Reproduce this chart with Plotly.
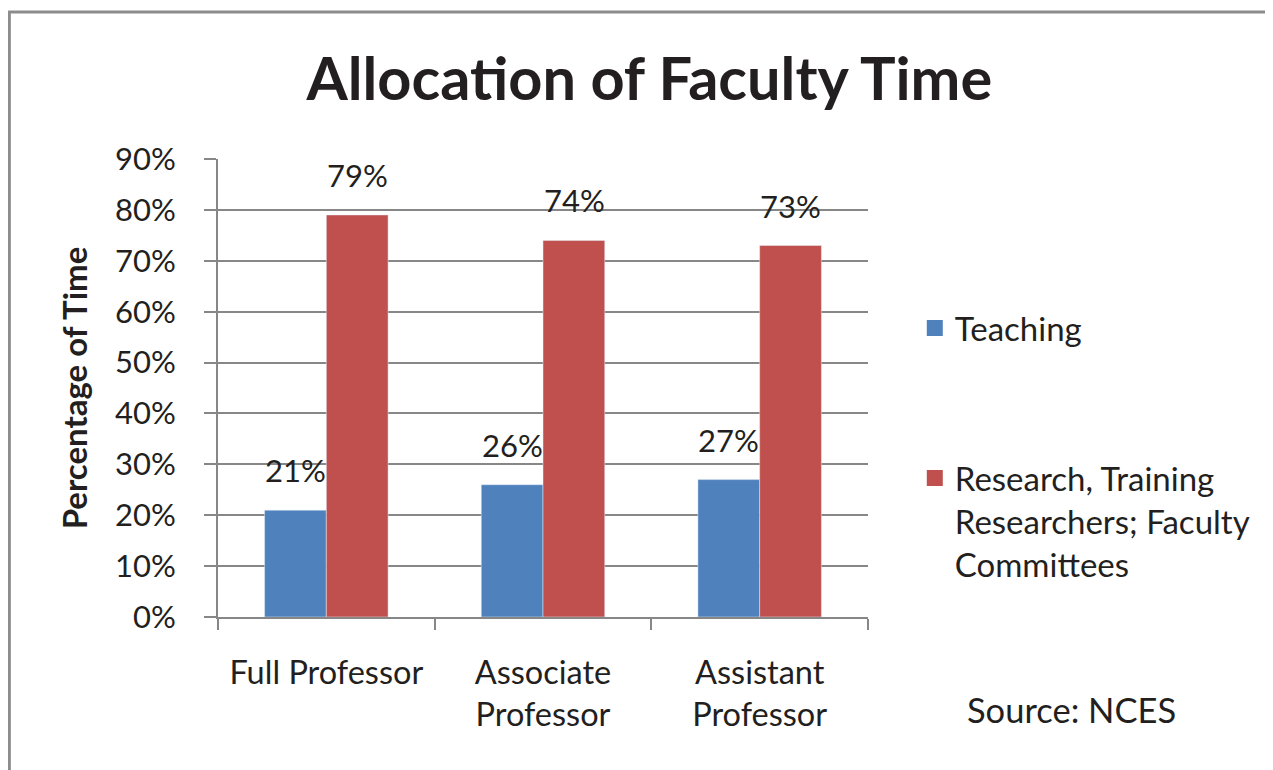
import plotly.graph_objects as go

categories = ["Full Professor", "Associate<br>Professor", "Assistant<br>Professor"]
teaching = [21, 26, 27]
research = [79, 74, 73]
series_names = ["Teaching", "Research, Training<br>Researchers; Faculty<br>Committees"]
y_ticks = [0, 10, 20, 30, 40, 50, 60, 70, 80, 90]
y_tick_labels = [f"{v}%" for v in y_ticks]

BLUE = "#4F81BD"
RED = "#C0504D"
GRID = "#878787"
TXT = "#231f20"
FONT = "Lato"

fig = go.Figure()
fig.add_trace(go.Bar(x=categories, y=teaching, name=series_names[0],
                     marker=dict(color=BLUE), showlegend=False))
fig.add_trace(go.Bar(x=categories, y=research, name=series_names[1],
                     marker=dict(color=RED), showlegend=False))
# legend entries (square swatches)
for nm, col, grp in ((series_names[0], BLUE, "a"), (series_names[1], RED, "b")):
    fig.add_trace(go.Scatter(x=[None], y=[None], mode="markers", name=nm,
                             legendgroup=grp,
                             marker=dict(symbol="square", size=16, color=col)))

# data labels
for vals, shift in ((teaching, -31), (research, 31)):
    for c, v in zip(categories, vals):
        fig.add_annotation(x=c, y=v, text=f"{v}%", showarrow=False, xshift=shift,
                           yanchor="bottom", yshift=19,
                           font=dict(family=FONT, size=31, color=TXT))

fig.add_annotation(xref="paper", yref="paper", x=1.149, y=-0.203, xanchor="left",
                   yanchor="middle", text="Source: NCES", showarrow=False,
                   font=dict(family=FONT, size=34.5, color=TXT))

# outer border (left and top)
fig.add_shape(type="line", xref="paper", yref="paper", x0=-0.321, x1=-0.321,
              y0=1.321, y1=-0.4, line=dict(color="#8c8c8c", width=3))
fig.add_shape(type="line", xref="paper", yref="paper", x0=-0.323, x1=1.7,
              y0=1.321, y1=1.321, line=dict(color="#8c8c8c", width=3))

fig.update_layout(
    width=1265, height=762,
    margin=dict(l=210, r=405, t=151, b=153),
    paper_bgcolor="white", plot_bgcolor="white",
    title=dict(text="<b>Allocation of Faculty Time</b>", x=0.507, xanchor="center",
               y=0.906, yanchor="middle",
               font=dict(family=FONT, size=59.5, color=TXT)),
    font=dict(family=FONT, size=30, color=TXT),
    barmode="group", bargap=0.43, bargroupgap=0,
    legend=dict(x=1.072, y=0.692, xanchor="left", yanchor="top",
                font=dict(family=FONT, size=33, color=TXT),
                traceorder="grouped", tracegroupgap=104, valign="top",
                itemwidth=30, bgcolor="rgba(0,0,0,0)"),
    xaxis=dict(showline=True, linecolor=GRID, linewidth=2, ticks="outside",
               tickson="boundaries", ticklen=11, tickcolor=GRID, tickwidth=2,
               showgrid=False, tickfont=dict(family=FONT, size=32.5, color=TXT),
               ticklabelstandoff=26),
    yaxis=dict(range=[0, 90], tickvals=y_ticks, ticktext=y_tick_labels, showline=True,
               linecolor=GRID, linewidth=2, ticks="outside", ticklen=12,
               tickcolor=GRID, tickwidth=2, showgrid=True, gridcolor=GRID,
               gridwidth=2, zeroline=False,
               tickfont=dict(family=FONT, size=31, color=TXT),
               ticklabelstandoff=22,
               title=dict(text="<b>Percentage of Time</b>", standoff=17,
                          font=dict(family=FONT, size=33, color=TXT))),
)

fig.write_html("out.html")
